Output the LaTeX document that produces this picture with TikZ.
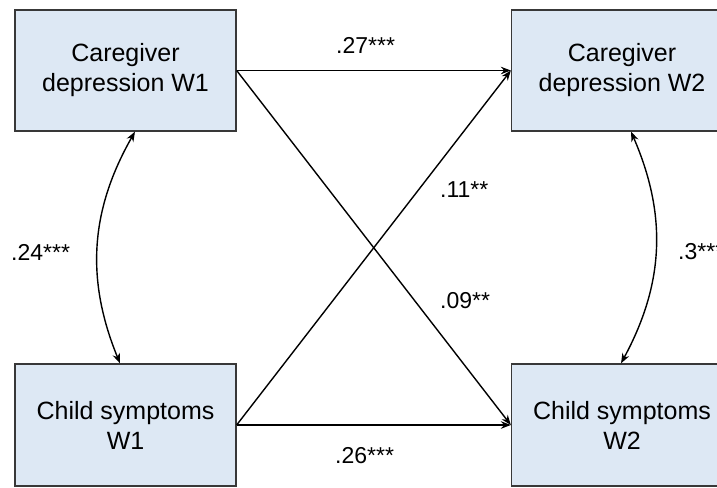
\documentclass[tikz,border=0pt]{standalone}
\usepackage{fontspec}
\setmainfont{Liberation Sans}
\usetikzlibrary{arrows.meta}
\definecolor{boxfill}{HTML}{DDE8F4}
\definecolor{boxline}{HTML}{383838}
\begin{document}
\begin{tikzpicture}[x=1pt,y=-1pt,
  var/.style={draw=boxline, line width=1.3pt, fill=boxfill, minimum width=221pt, minimum height=121pt, inner sep=0pt, align=center, font=\fontsize{25}{30}\selectfont},
  path/.style={line width=1.4pt, -{Stealth[length=10pt,width=7.5pt]}},
  cov/.style={line width=1.4pt, {Stealth[length=10pt,width=7.5pt]}-{Stealth[length=10pt,width=7.5pt]}},
  est/.style={anchor=base west, inner sep=0pt, font=\fontsize{23}{27}\selectfont}]
\useasboundingbox (0,0) rectangle (717,487);
\node[var] (A) at (125.5,70.5) {Caregiver\\depression W1};
\node[var] (B) at (622,70.5) {Caregiver\\depression W2};
\node[var, minimum height=122pt] (C) at (125.5,425) {Child symptoms\\W1};
\node[var, minimum height=122pt] (D) at (622,425) {Child symptoms\\W2};
\draw[path] (A.east) -- (B.west);
\draw[path] (A.east) -- (D.west);
\draw[path] (C.east) -- (B.west);
\draw[path] (C.east) -- (D.west);
\draw[cov] ([xshift=9.5pt]A.south) to[bend right=26] ([xshift=-5.5pt]C.north);
\draw[cov] ([xshift=9pt]B.south) to[bend left=26] ([xshift=-1pt]D.north);
\node[est] (l27) at (336,53) {.27***};
\node[est] (l11) at (440,197) {.11**};
\node[est] (l09) at (440,308) {.09**};
\node[est] (l24) at (11,260) {.24***};
\node[est] (l3) at (678,259) {.3***};
\node[est] (l26) at (335,463) {.26***};
\end{tikzpicture}
\end{document}
